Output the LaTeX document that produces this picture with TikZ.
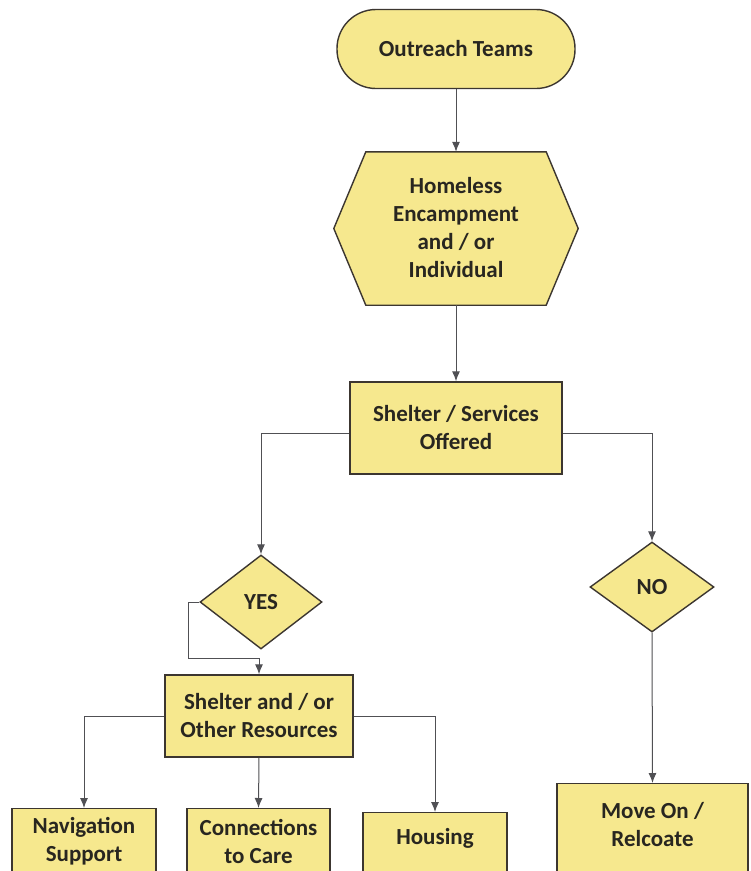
\documentclass[tikz,border=0pt]{standalone}
\usepackage{fontspec}
\setmainfont{Carlito}
\usetikzlibrary{shapes.geometric,arrows.meta}
\definecolor{boxfill}{RGB}{246,232,142}
\definecolor{boxline}{RGB}{60,54,48}
\definecolor{conn}{RGB}{80,80,84}
\definecolor{txt}{RGB}{40,38,32}
\tikzset{
  base/.style={draw=boxline, fill=boxfill, line width=1.4pt, inner sep=0pt, text=txt,
    font=\fontsize{23}{28}\selectfont\bfseries, align=center},
  stadium/.style={base, rounded corners=39pt, minimum width=238pt, minimum height=79pt},
  boxnode/.style={base, rectangle},
  decide/.style={base, diamond},
  lbl/.style={text=txt, font=\fontsize{23}{28}\selectfont\bfseries, align=center, inner sep=0pt},
  conn/.style={draw=conn, line width=1pt, -{Latex[length=10pt,width=8pt]}},
}
\begin{document}
\begin{tikzpicture}[x=1pt,y=-1pt]
\useasboundingbox (0,0) rectangle (751,871);
\clip (0,0) rectangle (751,871);
\fill[white] (0,0) rectangle (751,871);

\node[stadium] (out) at (456,49) {Outreach Teams};

\node[minimum width=180pt, minimum height=153pt, inner sep=0pt] (hex) at (456,228.5) {};
\draw[base] (hex.north west) -- (hex.north east) -- ([xshift=32pt]hex.east)
  -- (hex.south east) -- (hex.south west) -- ([xshift=-32pt]hex.west) -- cycle;
\node[lbl] (hextxt) at (456,228) {Homeless\\Encampment\\and / or\\Individual};

\node[boxnode, minimum width=212pt, minimum height=92pt] (svc) at (456,428) {Shelter / Services\\Offered};

\node[decide, minimum width=122pt, minimum height=94pt] (yes) at (261,602) {YES};
\node[decide, minimum width=124pt, minimum height=90pt] (no) at (652,587) {NO};

\node[boxnode, minimum width=188pt, minimum height=82pt] (res) at (259,716) {Shelter and / or\\Other Resources};

\node[boxnode, anchor=north, minimum width=144pt, minimum height=110pt] (nav) at (84,808) {};
\node[lbl] (navtxt) at (84,841) {Navigation\\Support};
\node[boxnode, anchor=north, minimum width=143pt, minimum height=110pt] (con) at (258.5,808) {};
\node[lbl] (contxt) at (258.5,841) {Connections\\to Care};
\node[boxnode, anchor=north, minimum width=144pt, minimum height=110pt] (hou) at (435,812) {};
\node[lbl] (houtxt) at (435,838) {Housing};
\node[boxnode, anchor=north, minimum width=191pt, minimum height=130pt] (mov) at (652.5,783) {};
\node[lbl] (movtxt) at (652.5,825) {Move On /\\Relcoate};

\draw[conn] (out.south) -- (hex.north);
\draw[conn] (hex.south) -- (svc.north);
\draw[conn] ([yshift=-5pt]svc.west) -| (yes.north);
\draw[conn] ([yshift=-5pt]svc.east) -| (no.north);
\coordinate (yb) at (188,658);
\draw[conn] (yes.west) -| (yb) -| (res.north);
\draw[conn] (res.west) -| (nav.north);
\draw[conn] (res.south) -- (con.north);
\draw[conn] (res.east) -| (hou.north);
\draw[conn] (no.south) -- (mov.north);
\end{tikzpicture}
\end{document}
